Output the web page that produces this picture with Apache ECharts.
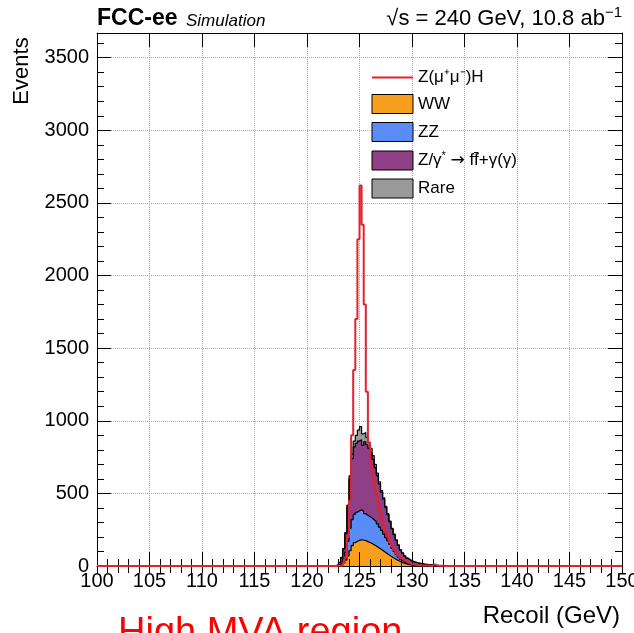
<!DOCTYPE html>
<html>
<head>
<meta charset="utf-8">
<script src="https://cdn.jsdelivr.net/npm/echarts@6/dist/echarts.min.js"></script>
<style>
html,body{margin:0;padding:0;background:#fff;}
#chart{width:634px;height:633px;}
</style>
</head>
<body>
<div id="chart"></div>
<script>
// ---- Data (bins of 0.2 GeV, values listed from first non-empty bin edge) ----
const xMin = 100, xMax = 150, binWidth = 0.2;
const firstEdge = 122.6;           // left edge of first listed bin
const yMax = 3670;
const xTicks = [100,105,110,115,120,125,130,135,140,145,150];
const yTicks = [0,500,1000,1500,2000,2500,3000,3500];

const seriesNames = ['Z(μ⁺μ⁻)H', 'WW', 'ZZ', 'Z/γ* → ff̄+γ(γ)', 'Rare'];

// Z(mu mu)H signal (red line)
const signal = [0,1,2,5,20,60,200,450,900,1350,
  1700,2250,2620,2350,1800,1200,850,690,590,520,
  450,385,330,280,235,200,165,135,110,88,
  70,55,42,33,25,19,14,11,8,6,
  5,4,4,3,3,2,2,12,2,1,
  1,1];
// WW (orange)
const ww = [1,3,7,13,22,40,70,105,140,160,
  170,176,180,179,175,168,162,155,147,138,
  128,118,108,98,88,78,68,58,50,42,
  34,27,21,16,12,9,7,5,4,3,
  3,2,2,1,1,1,1,1,1,1,
  0,0];
// ZZ (blue)
const zz = [1,2,5,12,28,55,100,155,180,195,
  200,204,208,196,185,182,178,175,171,167,
  162,150,137,122,107,94,80,64,50,36,
  26,18,12,9,6,4,3,3,2,2,
  1,1,1,1,1,1,0,0,0,0,
  1,1];
// Z/gamma* -> ff + gamma(gamma) (purple)
const zgam = [1,3,12,33,66,127,235,338,420,465,
  475,480,482,455,495,485,470,448,416,373,
  332,297,263,240,207,181,156,133,116,99,
  82,65,55,44,36,31,25,21,19,16,
  14,13,10,9,7,6,5,4,3,2,
  2,1];
// Rare (gray)
const rare = [0,0,1,2,4,8,15,22,30,40,
  55,75,90,80,65,50,40,32,26,22,
  18,15,12,10,8,7,6,5,4,3,
  3,2,2,1,1,1,1,1,1,1,
  1,0,0,0,0,0,0,0,0,0,
  0,0];

// ---- Build histograms ----
const nBins = Math.round((xMax - xMin) / binWidth);
const offset = Math.round((firstEdge - xMin) / binWidth);
function fullHist(vals){
  const a = new Array(nBins).fill(0);
  vals.forEach((v,i)=>{ a[offset+i] = v; });
  return a;
}
function addArr(a,b){ return a.map((v,i)=>v+b[i]); }
function stepData(arr){
  const pts = arr.map((v,i)=>[+(xMin + i*binWidth).toFixed(2), v]);
  pts.push([xMax, arr[nBins-1]]);
  return pts;
}
const hSig = fullHist(signal);
const c1 = fullHist(ww);
const c2 = addArr(c1, fullHist(zz));
const c3 = addArr(c2, fullHist(zgam));
const c4 = addArr(c3, fullHist(rare));

const colors = {
  sig: '#e2222f', ww: '#f8a01d', zz: '#5a8cf8', zg: '#8e3f85', rare: '#9a9a9a'
};
const FONT = '"Liberation Sans", Arial, Helvetica, sans-serif';

function fillSeries(name, data, color){
  return {
    name: name, type: 'line', data: stepData(data), step: 'end',
    symbol: 'none', showSymbol: false, animation: false,
    itemStyle: {color: color},
    lineStyle: {color: '#000', width: 1.2},
    areaStyle: {color: color, opacity: 1},
    xAxisIndex: 0, yAxisIndex: 0, z: 2
  };
}

const chart = echarts.init(document.getElementById('chart'), null, {renderer: 'canvas'});

const gridBox = {left: 97, right: 12, top: 33, bottom: 67, containLabel: false, outerBoundsMode: 'none'};
function xAx(extra){
  return Object.assign({
    type: 'value', min: xMin, max: xMax, interval: 5,
    axisLine: {show: true, onZero: false, lineStyle: {color: '#000', width: 1}},
    axisTick: {show: true, inside: true, length: 14, lineStyle: {color: '#000'}},
    axisLabel: {show: false},
    splitLine: {show: false}
  }, extra);
}
function yAx(extra){
  return Object.assign({
    type: 'value', min: 0, max: yMax, interval: 500,
    axisLine: {show: true, onZero: false, lineStyle: {color: '#000', width: 1}},
    axisTick: {show: true, inside: true, length: 14, lineStyle: {color: '#000'}},
    axisLabel: {show: false},
    splitLine: {show: false}
  }, extra);
}

const option = {
  backgroundColor: '#fff',
  animation: false,
  grid: gridBox,
  xAxis: [
    xAx({position: 'bottom', z: 5,
      axisLabel: {show: true, fontSize: 20, color: '#000', fontFamily: FONT, margin: 5,
        hideOverlap: false,
        formatter: v => xTicks.indexOf(v) >= 0 ? String(v) : ''}}),
    xAx({position: 'bottom', z: 5, interval: 1, axisLine: {show: false},
      axisTick: {show: true, inside: true, length: 7, lineStyle: {color: '#000'}}}),
    xAx({position: 'top', z: 0,
      splitLine: {show: true, lineStyle: {type: 'dotted', color: '#a8a8a8', width: 1}}}),
    xAx({position: 'top', z: 0, interval: 1, axisLine: {show: false},
      axisTick: {show: true, inside: true, length: 7, lineStyle: {color: '#000'}}})
  ],
  yAxis: [
    yAx({position: 'left', z: 5,
      axisLabel: {show: true, fontSize: 20, color: '#000', fontFamily: FONT, margin: 8,
        showMaxLabel: false,
        formatter: v => yTicks.indexOf(v) >= 0 ? String(v) : ''}}),
    yAx({position: 'left', z: 5, interval: 100, axisLine: {show: false},
      axisTick: {show: true, inside: true, length: 7, lineStyle: {color: '#000'}}}),
    yAx({position: 'right', z: 0,
      splitLine: {show: true, lineStyle: {type: 'dotted', color: '#a8a8a8', width: 1}}}),
    yAx({position: 'right', z: 0, interval: 100, axisLine: {show: false},
      axisTick: {show: true, inside: true, length: 7, lineStyle: {color: '#000'}}})
  ],
  legend: {
    orient: 'vertical', left: 366, top: 64,
    itemWidth: 41, itemHeight: 19, itemGap: 8,
    selectedMode: false,
    textStyle: {fontSize: 17, color: '#000', fontFamily: FONT,
      rich: {
        n: {fontSize: 17, fontFamily: FONT, color: '#000'},
        a: {fontSize: 17, fontFamily: '"DejaVu Sans", sans-serif', color: '#000'},
        s: {fontSize: 11, fontFamily: FONT, color: '#000', verticalAlign: 'top', padding: [0, 0, 10, 0]}
      }},
    formatter: function(name){
      if (name === seriesNames[3]) return '{n|Z/γ}{s|*}{n| }{a|→}{n| ff̄+γ(γ)}';
      return name;
    },
    data: [
      {name: seriesNames[0], itemStyle: {color: colors.sig, opacity: 0, borderWidth: 0}, lineStyle: {color: colors.sig, width: 2}},
      {name: seriesNames[1], icon: 'rect', itemStyle: {color: colors.ww, borderColor: '#000', borderWidth: 1}},
      {name: seriesNames[2], icon: 'rect', itemStyle: {color: colors.zz, borderColor: '#000', borderWidth: 1}},
      {name: seriesNames[3], icon: 'rect', itemStyle: {color: colors.zg, borderColor: '#000', borderWidth: 1}},
      {name: seriesNames[4], icon: 'rect', itemStyle: {color: colors.rare, borderColor: '#000', borderWidth: 1}}
    ]
  },
  series: [
    fillSeries(seriesNames[4], c4, colors.rare),
    fillSeries(seriesNames[3], c3, colors.zg),
    fillSeries(seriesNames[2], c2, colors.zz),
    fillSeries(seriesNames[1], c1, colors.ww),
    {
      name: seriesNames[0], type: 'line', data: stepData(hSig), step: 'end',
      symbol: 'none', showSymbol: false, animation: false,
      itemStyle: {color: colors.sig},
      lineStyle: {color: colors.sig, width: 2},
      xAxisIndex: 0, yAxisIndex: 0, z: 6
    }
  ],
  graphic: [
    {type: 'text', x: 97, y: 19, style: {text: 'FCC-ee', font: 'bold 23px ' + FONT, fill: '#000', textAlign: 'left', textVerticalAlign: 'middle'}},
    {type: 'text', x: 186, y: 21, style: {text: 'Simulation', font: 'italic 17px ' + FONT, fill: '#000', textAlign: 'left', textVerticalAlign: 'middle'}},
    {type: 'text', x: 622, y: 19, style: {
      text: '{a|√s = 240 GeV, 10.8 ab}{b|−1}', textAlign: 'right', textVerticalAlign: 'middle',
      rich: {
        a: {fontSize: 22, fontFamily: FONT, color: '#000'},
        b: {fontSize: 15, fontFamily: FONT, color: '#000', verticalAlign: 'top', padding: [0, 0, 12, 0]}
      }}},
    {type: 'text', x: 22, y: 71, rotation: Math.PI / 2, style: {text: 'Events', font: '22px ' + FONT, fill: '#000', textAlign: 'center', textVerticalAlign: 'middle'}},
    {type: 'text', x: 620, y: 616, style: {text: 'Recoil (GeV)', font: '24px ' + FONT, fill: '#000', textAlign: 'right', textVerticalAlign: 'middle'}},
    {type: 'text', x: 118, y: 634, style: {text: 'High MVA region', font: '38px ' + FONT, fill: '#ff0000', textAlign: 'left', textVerticalAlign: 'middle'}}
  ]
};
chart.setOption(option);
</script>
</body>
</html>
